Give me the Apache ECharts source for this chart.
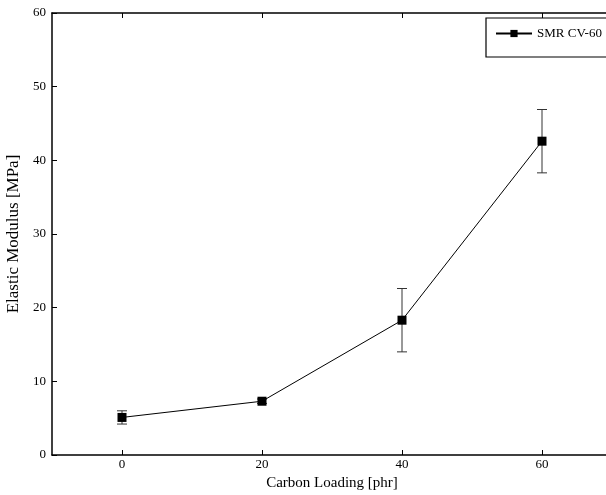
<!DOCTYPE html>
<html><head><meta charset="utf-8">
<script src="https://cdn.jsdelivr.net/npm/echarts@6/dist/echarts.min.js"></script>
<style>html,body{margin:0;padding:0;background:#fff}#c{width:606px;height:495px}</style>
</head><body><div id="c"></div>
<script>
const categories = [0, 20, 40, 60];
const modulus = [5.1, 7.3, 18.3, 42.6];
const errors = [0.9, 0.3, 4.3, 4.3];
const seriesName = 'SMR CV-60';

const font = 'Liberation Serif';
const chart = echarts.init(document.getElementById('c'));
const lineData = categories.map((x, i) => [x, modulus[i]]);
const errData = categories.map((x, i) => [x, modulus[i] - errors[i], modulus[i] + errors[i]]);

chart.setOption({
  animation: false,
  backgroundColor: '#fff',
  textStyle: { fontFamily: font },
  grid: { left: 52, right: -6, top: 13, bottom: 40, containLabel: false, outerBoundsMode: 'none' },
  legend: {
    data: [seriesName],
    left: 486, top: 18,
    padding: [9, 10, 17, 9],
    backgroundColor: '#fff',
    borderColor: '#000', borderWidth: 1.2,
    itemWidth: 36, itemHeight: 9, itemGap: 0,
    textStyle: { fontFamily: font, fontSize: 13, color: '#000' }
  },
  xAxis: [{
    type: 'value', min: -10, max: 70, interval: 10,
    name: 'Carbon Loading [phr]', nameLocation: 'middle', nameGap: 17,
    nameTextStyle: { fontFamily: font, fontSize: 15, color: '#000' },
    axisLine: { onZero: false, lineStyle: { color: '#000', width: 1.5 } },
    axisTick: { inside: true, length: 5, lineStyle: { color: '#000' }, customValues: [0, 20, 40, 60] },
    axisLabel: { fontFamily: font, fontSize: 13, color: '#000', margin: 3, customValues: [0, 20, 40, 60] },
    splitLine: { show: false }
  }, {
    type: 'value', min: -10, max: 70, position: 'top',
    axisLine: { onZero: false, lineStyle: { color: '#000', width: 1.5 } },
    axisTick: { inside: true, length: 5, lineStyle: { color: '#000' }, customValues: [0, 20, 40, 60] },
    axisLabel: { show: false }, splitLine: { show: false }
  }],
  yAxis: {
    type: 'value', min: 0, max: 60, interval: 10,
    name: 'Elastic Modulus [MPa]', nameLocation: 'middle', nameGap: 19,
    nameTextStyle: { fontFamily: font, fontSize: 17, color: '#000' },
    axisLine: { show: true, onZero: false, lineStyle: { color: '#000', width: 1.5 } },
    axisTick: { show: true, inside: true, length: 5, lineStyle: { color: '#000' } },
    axisLabel: { fontFamily: font, fontSize: 13, color: '#000', margin: 6 },
    splitLine: { show: false }
  },
  series: [{
    name: seriesName, type: 'line', data: lineData,
    symbol: 'rect', symbolSize: 9, z: 3,
    lineStyle: { color: '#000', width: 1 },
    itemStyle: { color: '#000' }
  }, {
    type: 'custom', data: errData, z: 2,
    renderItem: function (params, api) {
      const x = api.value(0);
      const lo = api.coord([x, api.value(1)]);
      const hi = api.coord([x, api.value(2)]);
      const w = 5;
      const st = { stroke: '#333', lineWidth: 1, fill: null };
      return { type: 'group', children: [
        { type: 'line', shape: { x1: lo[0], y1: lo[1], x2: hi[0], y2: hi[1] }, style: st },
        { type: 'line', shape: { x1: lo[0] - w, y1: lo[1], x2: lo[0] + w, y2: lo[1] }, style: st },
        { type: 'line', shape: { x1: hi[0] - w, y1: hi[1], x2: hi[0] + w, y2: hi[1] }, style: st }
      ]};
    }
  }]
});
</script></body></html>
